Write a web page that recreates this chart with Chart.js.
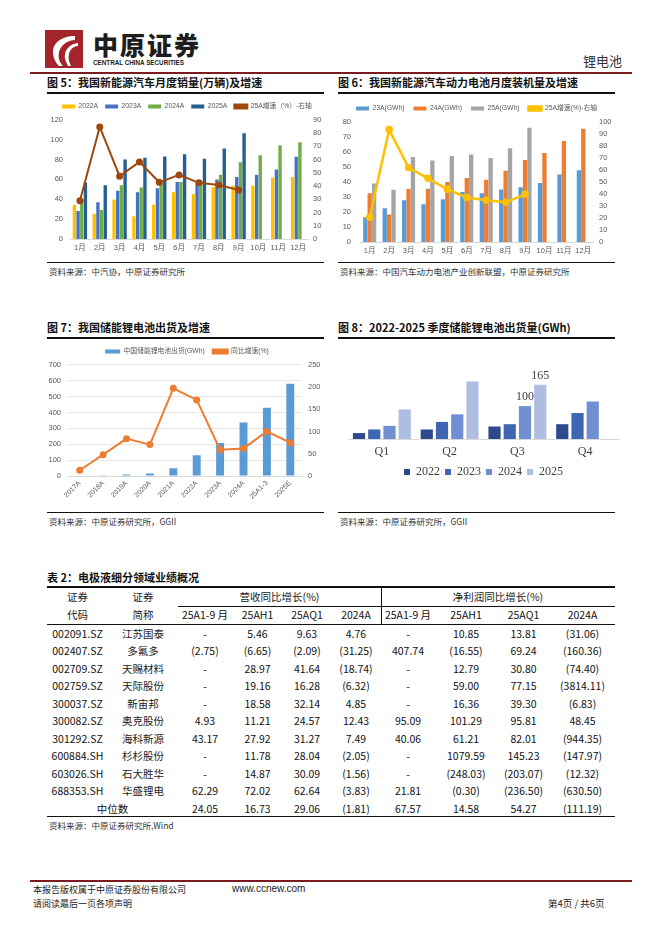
<!DOCTYPE html>
<html><head><meta charset="utf-8">
<script src="https://cdn.jsdelivr.net/npm/chart.js@4/dist/chart.umd.min.js"></script>
<style>
body{margin:0;width:662px;height:936px;position:relative;background:#fff;font-family:"Noto Sans CJK SC",sans-serif;overflow:hidden;color:#111}
.t{position:absolute;white-space:nowrap}
.title{position:absolute;font-size:11px;font-weight:bold;line-height:13px;white-space:nowrap;color:#111}
.rule{position:absolute;background:#111}
.src{position:absolute;font-size:8.5px;line-height:10px;color:#333;white-space:nowrap}
canvas{position:absolute}
.cell{position:absolute;text-align:center;font-size:10.5px;line-height:17px;white-space:nowrap;color:#111}
</style></head><body>
<!-- header -->
<svg class="t" style="left:45px;top:30px" width="38" height="38" viewBox="0 0 38 38">
<rect width="38" height="38" fill="#a3252b"/>
<path d="M30 6 C18 6 8 12 8 22 C8 28 11 33 14 36 L18 36 C14 32 13 27 14 22 C16 14 24 10 30 10 Z" fill="#fff"/>
<path d="M33 13 C26 14 21 18 20 24 C19 28 21 32 23 36 L26 36 C24 32 23 28 24 24 C25 19 29 16 33 16 Z" fill="#fff"/>
</svg>
<div class="t" style="left:93px;top:28px;font-size:25px;font-weight:900;letter-spacing:2px;color:#1d1d1d;line-height:32px">中原证券</div>
<div class="t" style="left:93px;top:59px;font-size:6.3px;font-weight:bold;color:#222;line-height:8px;font-family:'Liberation Sans',sans-serif">CENTRAL CHINA SECURITIES</div>
<div class="t" style="left:583px;top:53px;font-size:13px;color:#333;line-height:16px">锂电池</div>
<div class="rule" style="left:30px;top:72px;width:602px;height:2px;background:#7a1b1f"></div>

<!-- chart 5 -->
<div class="title" style="left:47px;top:76px">图 5：我国新能源汽车月度销量(万辆)及增速</div>
<div class="rule" style="left:47px;top:92px;width:277px;height:1.5px"></div>
<canvas id="c5" width="280" height="164" style="left:47px;top:94px"></canvas>
<div class="rule" style="left:47px;top:262px;width:277px;height:1.2px"></div>
<div class="src" style="left:49px;top:266px">资料来源：中汽协，中原证券研究所</div>

<!-- chart 6 -->
<div class="title" style="left:338px;top:76px">图 6：我国新能源汽车动力电池月度装机量及增速</div>
<div class="rule" style="left:338px;top:92px;width:277px;height:1.5px"></div>
<canvas id="c6" width="277" height="164" style="left:338px;top:94px"></canvas>
<div class="rule" style="left:338px;top:262px;width:277px;height:1.2px"></div>
<div class="src" style="left:340px;top:266px">资料来源：中国汽车动力电池产业创新联盟，中原证券研究所</div>

<!-- chart 7 -->
<div class="title" style="left:47px;top:321px">图 7：我国储能锂电池出货及增速</div>
<div class="rule" style="left:47px;top:337px;width:277px;height:1.5px"></div>
<canvas id="c7" width="280" height="172" style="left:47px;top:338px"></canvas>
<div class="rule" style="left:47px;top:512px;width:277px;height:1.2px"></div>
<div class="src" style="left:49px;top:516px">资料来源：中原证券研究所，GGII</div>

<!-- chart 8 -->
<div class="title" style="left:338px;top:321px">图 8：2022-2025 季度储能锂电池出货量(GWh)</div>
<div class="rule" style="left:338px;top:337px;width:277px;height:1.5px"></div>
<canvas id="c8" width="284" height="150" style="left:338px;top:338px"></canvas>
<div class="rule" style="left:338px;top:512px;width:277px;height:1.2px"></div>
<div class="src" style="left:340px;top:516px">资料来源：中原证券研究所，GGII</div>

<!-- table -->
<div class="title" style="left:47px;top:571px">表 2：电极液细分领域业绩概况</div>
<div id="tbl"></div>
<div class="src" style="left:49px;top:820px">资料来源：中原证券研究所,Wind</div>

<!-- footer -->
<div class="rule" style="left:30px;top:880px;width:602px;height:1.5px;background:#7a1b1f"></div>
<div class="t" style="left:33px;top:884px;font-size:9px;line-height:11px;color:#222">本报告版权属于中原证券股份有限公司</div>
<div class="t" style="left:232px;top:883px;font-size:10px;line-height:12px;color:#222;font-family:'Liberation Sans',sans-serif">www.ccnew.com</div>
<div class="t" style="left:33px;top:898px;font-size:9px;line-height:11px;color:#222">请阅读最后一页各项声明</div>
<div class="t" style="left:548px;top:897px;font-size:9.5px;line-height:12px;color:#222">第4页 / 共6页</div>

<script>
// ---------- data ----------
const months = ['1月','2月','3月','4月','5月','6月','7月','8月','9月','10月','11月','12月'];
// chart 5: NEV monthly sales (万辆) and 25A growth (%)
const sales2022 = [34.2,25.4,39.7,22.8,34.5,47,45.4,52,53.6,53.6,61.8,62.5];
const sales2023 = [28.3,37,48.5,47,51,57.3,56.2,59.8,62.5,64.8,70,82.8];
const sales2024 = [40.4,29.3,54,51.8,56.7,57.3,57,64.8,77.3,84.2,94.3,97.3];
const sales2025 = [57,54,80,81.8,83,85.3,80.9,91,106.5,null,null,null];
const salesGrowth25 = [28.9,84.6,47.4,58.2,42.8,48.4,42.4,40.7,37,null,null,null];
// chart 6: power battery installs (GWh) and 25A growth (%)
const inst23 = [16.5,22.4,27.8,25.2,28.5,33.3,32.4,35,36.5,39.3,45,47.8];
const inst24 = [32.4,18.3,35.2,35.4,40,42.6,41.5,47.4,54.6,59.3,67.2,75.4];
const inst25 = [39,34.8,56.5,54.3,57.2,58.3,55.9,62.4,76,null,null,null];
const instGrowth25 = [20.6,93.5,62,53,43.8,37,34.8,33,39.7,null,null,null];
// chart 7: energy storage Li battery shipments
const essYears = ['2017A','2018A','2019A','2020A','2021A','2022A','2023A','2024A','25A1-3','2025E'];
const essShip = [3.5,5,9.5,16,48,130,208,336,429,580];
const essGrowth = [13,48,84,70.6,197,171,59,62,100,75];
// chart 8: quarterly ESS shipments
const quarters = ['Q1','Q2','Q3','Q4'];
const q2022 = [18,29,38,45];
const q2023 = [29,52,45,79];
const q2024 = [40,75,100,114];
const q2025 = [90,175,165,null];
const q8Shown = [[2,2],[3,2]]; // [dataset, index] pairs that carry a value label
// table
const tblCodes = ['002091.SZ','002407.SZ','002709.SZ','002759.SZ','300037.SZ','300082.SZ','301292.SZ','600884.SH','603026.SH','688353.SH','中位数'];
const tblNames = ['江苏国泰','多氟多','天赐材料','天际股份','新宙邦','奥克股份','海科新源','杉杉股份','石大胜华','华盛锂电',''];
const revA19 = ['-','(2.75)','-','-','-','4.93','43.17','-','-','62.29','24.05'];
const revH1 = ['5.46','(6.65)','28.97','19.16','18.58','11.21','27.92','11.78','14.87','72.02','16.73'];
const revQ1 = ['9.63','(2.09)','41.64','16.28','32.14','24.57','31.27','28.04','30.09','62.64','29.06'];
const rev24 = ['4.76','(31.25)','(18.74)','(6.32)','4.85','12.43','7.49','(2.05)','(1.56)','(3.83)','(1.81)'];
const npA19 = ['-','407.74','-','-','-','95.09','40.06','-','-','21.81','67.57'];
const npH1 = ['10.85','(16.55)','12.79','59.00','16.36','101.29','61.21','1079.59','(248.03)','(0.30)','14.58'];
const npQ1 = ['13.81','69.24','30.80','77.15','39.30','95.81','82.01','145.23','(203.07)','(236.50)','54.27'];
const np24 = ['(31.06)','(160.36)','(74.40)','(3814.11)','(6.83)','48.45','(944.35)','(147.97)','(12.32)','(630.50)','(111.19)'];
const subHeads = ['25A1-9 月','25AH1','25AQ1','2024A','25A1-9 月','25AH1','25AQ1','2024A'];

// ---------- charts ----------
Chart.defaults.font.family = '"Liberation Sans","Noto Sans CJK SC",sans-serif';
Chart.defaults.color = '#595959';
const tickFont = {size:7.5};
const noGrid = {display:false, drawTicks:false};
function fixW(w){return s=>{s.width=w;};}
function fixH(h){return s=>{s.height=h;};}
const base = {responsive:false,animation:false,devicePixelRatio:1,events:[]};
const byIndex = (a,b)=>a.datasetIndex-b.datasetIndex;

new Chart(document.getElementById('c5'),{
  data:{labels:months,datasets:[
    {type:'bar',label:'2022A',data:sales2022,backgroundColor:'#ffc000',yAxisID:'y',order:2},
    {type:'bar',label:'2023A',data:sales2023,backgroundColor:'#4472c4',yAxisID:'y',order:2},
    {type:'bar',label:'2024A',data:sales2024,backgroundColor:'#70ad47',yAxisID:'y',order:2},
    {type:'bar',label:'2025A',data:sales2025,backgroundColor:'#255e91',yAxisID:'y',order:2},
    {type:'line',label:'25A增速（%）-右轴',data:salesGrowth25,borderColor:'#9e480e',backgroundColor:'#9e480e',borderWidth:2,pointRadius:2.5,pointBackgroundColor:'#9e480e',yAxisID:'y1',order:0}
  ]},
  options:Object.assign({},base,{
    layout:{padding:{top:2}},
    datasets:{bar:{categoryPercentage:0.74,barPercentage:0.92}},
    plugins:{legend:{labels:{boxWidth:13,boxHeight:4,font:{size:6.8},padding:7,sort:byIndex}},tooltip:{enabled:false}},
    scales:{
      x:{grid:noGrid,border:{color:'#d9d9d9'},ticks:{font:tickFont,padding:4,maxRotation:0,minRotation:0,autoSkip:false},afterFit:fixH(19)},
      y:{position:'left',min:0,max:120,grid:noGrid,border:{display:false},ticks:{stepSize:20,font:tickFont,padding:7},afterFit:fixW(23)},
      y1:{position:'right',min:0,max:90,grid:noGrid,border:{display:false},ticks:{stepSize:10,font:tickFont,padding:5},afterFit:fixW(19)}
    }
  })
});

new Chart(document.getElementById('c6'),{
  data:{labels:months,datasets:[
    {type:'bar',label:'23A(GWh)',data:inst23,backgroundColor:'#5b9bd5',yAxisID:'y',order:2},
    {type:'bar',label:'24A(GWh)',data:inst24,backgroundColor:'#ed7d31',yAxisID:'y',order:2},
    {type:'bar',label:'25A(GWh)',data:inst25,backgroundColor:'#a5a5a5',yAxisID:'y',order:2},
    {type:'line',label:'25A增速(%)-右轴',data:instGrowth25,borderColor:'#ffc000',backgroundColor:'#ffc000',borderWidth:2.5,pointRadius:2.5,pointBackgroundColor:'#ffc000',yAxisID:'y1',order:0}
  ]},
  options:Object.assign({},base,{
    layout:{padding:{top:2}},
    datasets:{bar:{categoryPercentage:0.68,barPercentage:0.98}},
    plugins:{legend:{labels:{boxWidth:13,boxHeight:4,font:{size:6.8},padding:9,sort:byIndex}},tooltip:{enabled:false}},
    scales:{
      x:{grid:noGrid,border:{color:'#d9d9d9'},ticks:{font:tickFont,padding:4,maxRotation:0,minRotation:0,autoSkip:false},afterFit:fixH(16)},
      y:{position:'left',min:0,max:80,grid:noGrid,border:{display:false},ticks:{stepSize:10,font:tickFont,padding:9},afterFit:fixW(22)},
      y1:{position:'right',min:0,max:100,grid:noGrid,border:{display:false},ticks:{stepSize:10,font:tickFont,padding:6},afterFit:fixW(22)}
    }
  })
});

new Chart(document.getElementById('c7'),{
  data:{labels:essYears,datasets:[
    {type:'bar',label:'中国储能锂电池出货(GWh)',data:essShip,backgroundColor:'#5b9bd5',yAxisID:'y',order:2},
    {type:'line',label:'同比增速(%)',data:essGrowth,borderColor:'#ed7d31',backgroundColor:'#ed7d31',borderWidth:2,pointRadius:2.5,pointBackgroundColor:'#ed7d31',yAxisID:'y1',order:0}
  ]},
  options:Object.assign({},base,{
    layout:{padding:{top:2}},
    datasets:{bar:{categoryPercentage:0.34,barPercentage:1}},
    plugins:{legend:{labels:{boxWidth:15,boxHeight:4,font:{size:6.8},padding:8,sort:byIndex}},tooltip:{enabled:false}},
    scales:{
      x:{grid:noGrid,border:{color:'#d9d9d9'},ticks:{font:{size:7},padding:3,minRotation:45,maxRotation:45,autoSkip:false},afterFit:fixH(34)},
      y:{position:'left',min:0,max:700,grid:{color:'#e6e6e6',drawTicks:false},border:{display:false},ticks:{stepSize:100,font:tickFont,padding:7},afterFit:fixW(21)},
      y1:{position:'right',min:0,max:250,grid:noGrid,border:{display:false},ticks:{stepSize:50,font:tickFont,padding:6},afterFit:fixW(25)}
    }
  })
});

const valueLabels = {
  id:'valueLabels',
  afterDatasetsDraw(chart){
    const ctx = chart.ctx;
    ctx.save();
    ctx.font = '12px "Liberation Serif",serif';
    ctx.fillStyle = '#404040';
    ctx.textAlign = 'center';
    ctx.textBaseline = 'bottom';
    q8Shown.forEach(([d,i])=>{
      const el = chart.getDatasetMeta(d).data[i];
      ctx.fillText(String(chart.data.datasets[d].data[i]), el.x, el.y-3);
    });
    ctx.restore();
  }
};
new Chart(document.getElementById('c8'),{
  type:'bar',
  data:{labels:quarters,datasets:[
    {label:'2022',data:q2022,backgroundColor:'#2c4a8c'},
    {label:'2023',data:q2023,backgroundColor:'#3e66b3'},
    {label:'2024',data:q2024,backgroundColor:'#6f8fd0'},
    {label:'2025',data:q2025,backgroundColor:'#b0bde2'}
  ]},
  plugins:[valueLabels],
  options:Object.assign({},base,{
    layout:{padding:{top:27,left:10,right:3}},
    datasets:{bar:{categoryPercentage:0.9,barPercentage:0.8}},
    plugins:{legend:{position:'bottom',labels:{usePointStyle:true,pointStyle:'rect',boxWidth:6,boxHeight:6,font:{size:12,family:'"Liberation Serif",serif'},color:'#404040',padding:5}},tooltip:{enabled:false}},
    scales:{
      x:{grid:noGrid,border:{color:'#d9d9d9'},ticks:{font:{size:12,family:'"Liberation Serif",serif'},color:'#404040',padding:6},afterFit:fixH(22)},
      y:{display:false,min:0,max:225}
    }
  })
});

// ---------- table ----------
(function(){
  const root = document.getElementById('tbl');
  const xs = [47,108,178,232,283,331,381,435,497,550,615];
  function cell(text,x0,x1,top,h,extra){
    const d = document.createElement('div');
    d.className='cell';
    d.style.left=x0+'px'; d.style.width=(x1-x0)+'px';
    d.style.top=top+'px'; d.style.height=h+'px'; d.style.lineHeight=h+'px';
    if(extra) Object.assign(d.style,extra);
    d.textContent=text; root.appendChild(d);
  }
  function line(x0,x1,y,w){
    const d=document.createElement('div'); d.className='rule';
    d.style.left=x0+'px'; d.style.width=(x1-x0)+'px'; d.style.top=y+'px'; d.style.height=w+'px';
    root.appendChild(d);
  }
  function vline(x,y0,y1){
    const d=document.createElement('div'); d.className='rule';
    d.style.left=x+'px'; d.style.width='1px'; d.style.top=y0+'px'; d.style.height=(y1-y0)+'px';
    root.appendChild(d);
  }
  line(47,615,586,1.5);
  line(178,615,605.5,1);
  line(47,615,623.5,1.5);
  line(47,615,815.5,1.5);
  vline(381,587,624);
  const hs = {color:'#222'};
  cell('证券',xs[0],xs[1],588,18,hs);
  cell('证券',xs[1],xs[2],588,18,hs);
  cell('营收同比增长(%)',xs[2],xs[6],588,18,hs);
  cell('净利润同比增长(%)',xs[6],xs[10],588,18,hs);
  cell('代码',xs[0],xs[1],606,18,hs);
  cell('简称',xs[1],xs[2],606,18,hs);
  subHeads.forEach((t,i)=>cell(t,xs[i+2],xs[i+3],606,18));
  const cols = [revA19,revH1,revQ1,rev24,npA19,npH1,npQ1,np24];
  const rh = 17.45;
  tblCodes.forEach((code,r)=>{
    const top = 625 + r*rh;
    if(r===tblCodes.length-1){
      cell(code,xs[0],xs[2],top,rh);
    } else {
      cell(code,xs[0],xs[1],top,rh);
      cell(tblNames[r],xs[1],xs[2],top,rh,{color:'#222'});
    }
    cols.forEach((c,i)=>cell(c[r],xs[i+2],xs[i+3],top,rh));
  });
})();
</script>
</body></html>
